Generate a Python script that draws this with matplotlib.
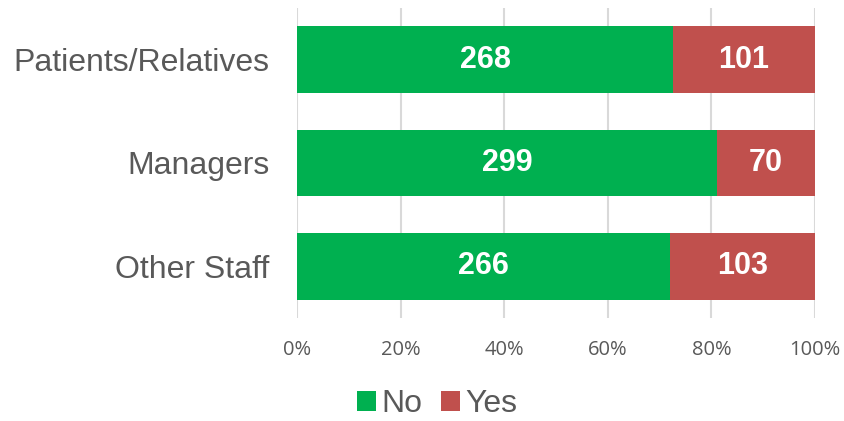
import matplotlib.pyplot as plt
import numpy as np

groups = ["Patients/Relatives", "Managers", "Other Staff"]
no_counts = [268, 299, 266]
yes_counts = [101, 70, 103]
tick_labels = ["0%", "20%", "40%", "60%", "80%", "100%"]

GREEN = "#00B050"
RED = "#C0504D"
GREY = "#595959"

no = np.array(no_counts, dtype=float)
yes = np.array(yes_counts, dtype=float)
total = no + yes
no_pct = no / total * 100
yes_pct = yes / total * 100

fig = plt.figure(figsize=(8.44, 4.21), dpi=100)
ax = fig.add_axes([0.3519, 0.2447, 0.6137, 0.7363])

y = np.arange(len(groups))
h = 0.645
b_no = ax.barh(y, no_pct, height=h, color=GREEN, label="No", zorder=2)
b_yes = ax.barh(y, yes_pct, left=no_pct, height=h, color=RED, label="Yes", zorder=2)

for bars, vals in ((b_no, no_counts), (b_yes, yes_counts)):
    for bar, v in zip(bars, vals):
        ax.text(bar.get_x() + bar.get_width() / 2, bar.get_y() + bar.get_height() / 2,
                str(v), ha="center", va="center", color="white", fontsize=22,
                fontweight="bold", family="Liberation Sans", zorder=3)

ax.set_xlim(0, 100)
ax.set_ylim(2.5, -0.5)
ax.set_xticks(np.arange(0, 101, 20))
ax.set_xticklabels(tick_labels, family="Open Sans", fontsize=14.5, color=GREY)
ax.set_yticks(y)
ax.set_yticklabels(groups, family="Liberation Sans", fontsize=23, color=GREY)
ax.tick_params(axis="both", length=0)
ax.tick_params(axis="x", pad=16)
ax.tick_params(axis="y", pad=20)
ax.grid(axis="x", color="#D9D9D9", linewidth=1.5, zorder=0)
for s in ax.spines.values():
    s.set_visible(False)

leg = fig.legend(handles=[b_no, b_yes], labels=["No", "Yes"], loc="center",
                 bbox_to_anchor=(437 / 844, 1 - 404 / 421), ncol=2, frameon=False,
                 prop={"family": "Liberation Sans", "size": 23},
                 handlelength=0.6, handleheight=0.6, handletextpad=0.15,
                 columnspacing=0.6, borderpad=0.2)
for t in leg.get_texts():
    t.set_color(GREY)

fig.savefig("out.png", dpi=100)
